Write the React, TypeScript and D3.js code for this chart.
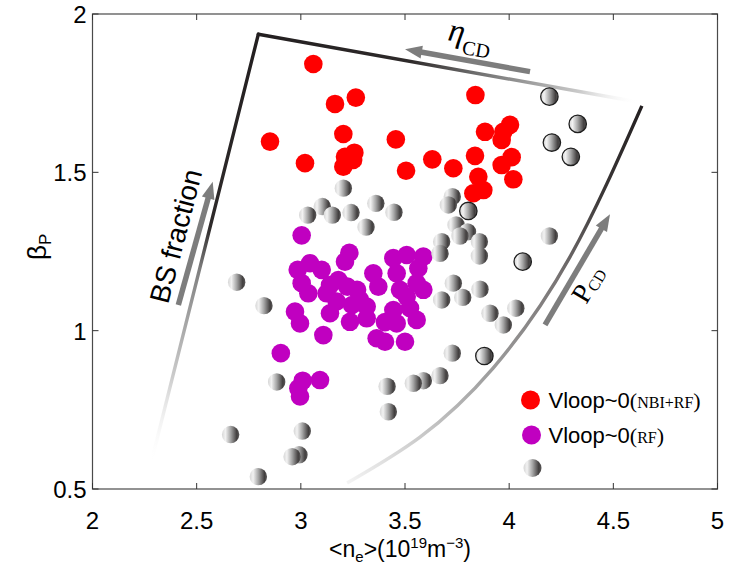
import React from 'react'
import * as d3 from 'd3'

// Vloop~0 (NBI+RF)
const redX = [3.06, 3.164, 3.264, 2.852, 3.204, 3.456, 3.02, 3.257, 3.212, 3.204, 3.251, 3.505, 3.838, 3.884, 3.972, 4.004, 3.964, 3.631, 3.732, 3.836, 3.964, 4.012, 4.02, 3.852, 3.876, 3.828]
const redY = [1.842, 1.716, 1.736, 1.597, 1.621, 1.604, 1.529, 1.562, 1.549, 1.518, 1.539, 1.505, 1.744, 1.628, 1.628, 1.65, 1.602, 1.541, 1.513, 1.552, 1.523, 1.548, 1.478, 1.486, 1.444, 1.434]

// Vloop~0 (RF)
const purpleX = [3.004, 3.233, 3.212, 3.044, 2.985, 3.1, 3.18, 3.004, 3.036, 3.124, 3.223, 3.348, 3.372, 3.444, 3.508, 3.588, 3.46, 3.564, 3.556, 3.588, 3.508, 3.284, 3.172, 3.14, 3.316, 3.444, 3.524, 2.972, 2.996, 3.236, 3.316, 3.46, 3.556, 3.108, 3.364, 3.404, 3.5, 2.904, 3.009, 3.092, 2.988, 2.996, 3.14, 3.27, 3.404, 3.476, 3.246]
const purpleY = [1.301, 1.246, 1.218, 1.213, 1.192, 1.192, 1.16, 1.15, 1.118, 1.118, 1.139, 1.181, 1.139, 1.229, 1.239, 1.234, 1.181, 1.197, 1.15, 1.129, 1.107, 1.097, 1.092, 1.055, 1.076, 1.065, 1.071, 1.06, 1.023, 1.028, 1.039, 1.023, 1.034, 0.986, 0.976, 0.965, 0.965, 0.929, 0.842, 0.844, 0.818, 0.792, 1.144, 1.129, 1.027, 1.129, 1.081]

// other shots
const grayX = [3.204, 3.103, 3.033, 3.151, 3.241, 3.36, 3.447, 3.313, 3.727, 3.708, 3.745, 3.8, 3.676, 3.857, 3.668, 3.857, 3.764, 4.193, 3.732, 3.676, 3.777, 3.86, 3.908, 4.032, 3.972, 3.727, 3.668, 3.588, 3.54, 3.414, 3.42, 2.692, 2.823, 2.884, 2.663, 3.007, 2.991, 2.958, 2.796]
const grayY = [1.45, 1.392, 1.365, 1.365, 1.373, 1.402, 1.374, 1.327, 1.423, 1.397, 1.334, 1.312, 1.281, 1.281, 1.244, 1.236, 1.299, 1.299, 1.15, 1.097, 1.105, 1.131, 1.055, 1.071, 1.018, 0.929, 0.858, 0.842, 0.834, 0.824, 0.744, 1.153, 1.079, 0.838, 0.672, 0.683, 0.608, 0.602, 0.539]
// other shots, drawn with a dark rim
const rimX = [4.193, 4.329, 4.205, 4.296, 3.804, 4.065, 3.881]
const rimY = [1.739, 1.653, 1.594, 1.549, 1.378, 1.218, 0.92]

const xTicks = [2, 2.5, 3, 3.5, 4, 4.5, 5]
const yTicks = [0.5, 1, 1.5, 2]

// annotation guides, in data units
const cornerPt = [2.796, 1.936]
const leftEndPt = [2.281, 0.582]
const topEndPt = [4.619, 1.722]
const arcX = [4.637, 4.292, 3.923, 3.572, 3.222]
const arcY = [1.71, 1.233, 0.882, 0.664, 0.519]
const etaArrow = [4.1, 1.818, 3.5, 1.889]
const bsArrow = [2.412, 1.081, 2.577, 1.47]
const pcdArrow = [4.172, 1.018, 4.484, 1.368]

const W = 737
const H = 568
const SANS = 'Liberation Sans, Arial, sans-serif'
const SERIF = 'Liberation Serif, Times New Roman, serif'

const Arrow = ({ x0, y0, x1, y1 }: { x0: number; y0: number; x1: number; y1: number }) => {
  const L = Math.hypot(x1 - x0, y1 - y0)
  const ux = (x1 - x0) / L, uy = (y1 - y0) / L
  const hl = 17, hw = 6.5
  const bx = x1 - ux * hl, by = y1 - uy * hl
  return (
    <g>
      <line x1={x0} y1={y0} x2={bx + ux} y2={by + uy} stroke="#7d7d7d" strokeWidth={5.5} />
      <polygon points={`${x1},${y1} ${bx - uy * hw},${by + ux * hw} ${bx + uy * hw},${by - ux * hw}`} fill="#7d7d7d" />
    </g>
  )
}

const App = () => {
  const x = d3.scaleLinear().domain([2, 5]).range([92.5, 717.5])
  const y = d3.scaleLinear().domain([0.5, 2]).range([489, 14])
  const [x0, x1] = x.range()
  const [y0, y1] = y.range()

  const arcLine = d3.line<number>()
    .x(i => x(arcX[i]))
    .y(i => y(arcY[i]))
    .curve(d3.curveNatural)
  const arcIdx = d3.range(arcX.length)

  const cx = x(cornerPt[0]), cy = y(cornerPt[1])
  const lx = x(leftEndPt[0]), ly = y(leftEndPt[1])
  const tx = x(topEndPt[0]), ty = y(topEndPt[1])
  const ax0 = x(arcX[0]), ay0 = y(arcY[0])
  const ax1 = x(arcX[arcX.length - 1]), ay1 = y(arcY[arcY.length - 1])

  const legX = x1 - 187
  const legY = y0 - 89

  return (
    <svg width={W} height={H} style={{ position: 'absolute', left: 0, top: 0, background: '#fff' }}>
      <defs>
        <linearGradient id="sphere" x1="0" x2="1" y1="0" y2="0">
          <stop offset="0" stopColor="#d6d6d6" />
          <stop offset="0.2" stopColor="#f2f2f2" />
          <stop offset="0.5" stopColor="#a6a6a6" />
          <stop offset="0.85" stopColor="#423f3f" />
          <stop offset="1" stopColor="#5a5858" />
        </linearGradient>
        <linearGradient id="gLeft" gradientUnits="userSpaceOnUse" x1={cx} y1={cy} x2={lx} y2={ly}>
          <stop offset="0" stopColor="#231f20" />
          <stop offset="0.45" stopColor="#2e2a2a" />
          <stop offset="0.55" stopColor="#808080" />
          <stop offset="0.8" stopColor="#cccccc" />
          <stop offset="1" stopColor="#ffffff" stopOpacity="0" />
        </linearGradient>
        <linearGradient id="gTop" gradientUnits="userSpaceOnUse" x1={cx} y1={cy} x2={tx} y2={ty}>
          <stop offset="0" stopColor="#231f20" />
          <stop offset="0.4" stopColor="#2e2a2a" />
          <stop offset="0.6" stopColor="#777777" />
          <stop offset="0.85" stopColor="#cccccc" />
          <stop offset="1" stopColor="#ffffff" stopOpacity="0" />
        </linearGradient>
        <linearGradient id="gArc" gradientUnits="userSpaceOnUse" x1={ax0} y1={ay0} x2={ax1} y2={ay1}>
          <stop offset="0" stopColor="#231f20" />
          <stop offset="0.2" stopColor="#3c3838" />
          <stop offset="0.4" stopColor="#7a7676" />
          <stop offset="0.65" stopColor="#a0a0a0" />
          <stop offset="0.85" stopColor="#cfcfcf" />
          <stop offset="1" stopColor="#f4f4f4" />
        </linearGradient>
      </defs>

      {/* frame + ticks */}
      <rect x={x0} y={y1} width={x1 - x0} height={y0 - y1} fill="none" stroke="#4a4a4a" strokeWidth={1.2} />
      {xTicks.map(t => (
        <g key={'x' + t}>
          <line x1={x(t)} x2={x(t)} y1={y0} y2={y0 - 6} stroke="#333" />
          <line x1={x(t)} x2={x(t)} y1={y1} y2={y1 + 6} stroke="#333" />
          <text x={x(t)} y={y0 + 40} textAnchor="middle" fontFamily={SANS} fontSize={24}>{t}</text>
        </g>
      ))}
      {yTicks.map(t => (
        <g key={'y' + t}>
          <line x1={x0} x2={x0 + 6} y1={y(t)} y2={y(t)} stroke="#333" />
          <line x1={x1} x2={x1 - 6} y1={y(t)} y2={y(t)} stroke="#333" />
          <text x={x0 - 6} y={y(t) + 9} textAnchor="end" fontFamily={SANS} fontSize={24}>{t}</text>
        </g>
      ))}

      {/* axis labels */}
      <text x={400} y={557} textAnchor="middle" fontFamily={SANS} fontSize={23}>
        {'<n'}<tspan dy={5} fontSize={15}>e</tspan><tspan dy={-5}>{'>(10'}</tspan>
        <tspan dy={-9} fontSize={15}>19</tspan><tspan dy={9}>m</tspan>
        <tspan dy={-9} fontSize={15}>{'\u22123'}</tspan><tspan dy={9}>)</tspan>
      </text>
      <text transform="translate(46,260) rotate(-90)" fontFamily={SANS} fontSize={26}>
        β<tspan dy={5} fontSize={17}>P</tspan>
      </text>

      {/* guide lines */}
      <line x1={cx} y1={cy} x2={lx} y2={ly} stroke="url(#gLeft)" strokeWidth={3.4} strokeLinecap="round" />
      <line x1={cx} y1={cy} x2={tx} y2={ty} stroke="url(#gTop)" strokeWidth={3.4} strokeLinecap="round" />
      <path d={arcLine(arcIdx) ?? ''} fill="none" stroke="url(#gArc)" strokeWidth={3.4} />

      <Arrow x0={x(etaArrow[0])} y0={y(etaArrow[1])} x1={x(etaArrow[2])} y1={y(etaArrow[3])} />
      <Arrow x0={x(bsArrow[0])} y0={y(bsArrow[1])} x1={x(bsArrow[2])} y1={y(bsArrow[3])} />
      <Arrow x0={x(pcdArrow[0])} y0={y(pcdArrow[1])} x1={x(pcdArrow[2])} y1={y(pcdArrow[3])} />

      <text transform={`translate(${x(3.702)},${y(1.918)}) rotate(10)`} fontFamily={SERIF} fontSize={33} fontStyle="italic">
        η<tspan dy={11} fontSize={20} fontStyle="normal">CD</tspan>
      </text>
      <text transform={`translate(${x(2.401)},${y(1.299)}) rotate(-75.5)`} fontFamily={SANS} fontSize={28}
        textAnchor="middle" dominantBaseline="central">BS fraction</text>
      <text transform={`translate(${x(4.37)},${y(1.081)}) rotate(-59)`} fontFamily={SERIF} fontSize={28}>
        P<tspan dy={2} fontSize={16}>CD</tspan>
      </text>

      {/* points */}
      {redX.map((v, i) => (
        <circle key={'r' + i} cx={x(v)} cy={y(redY[i])} r={9.3} fill="#ff0000" />
      ))}
      {purpleX.map((v, i) => (
        <circle key={'p' + i} cx={x(v)} cy={y(purpleY[i])} r={9.3} fill="#c000c0" />
      ))}
      {grayX.map((v, i) => (
        <circle key={'g' + i} cx={x(v)} cy={y(grayY[i])} r={8.7} fill="url(#sphere)" />
      ))}
      {rimX.map((v, i) => (
        <circle key={'k' + i} cx={x(v)} cy={y(rimY[i])} r={8.7} fill="url(#sphere)" stroke="#1e1e1e" strokeWidth={1.3} />
      ))}

      {/* legend */}
      <circle cx={legX} cy={legY} r={9.5} fill="#ff0000" />
      <text x={legX + 18} y={legY + 8} fontFamily={SANS} fontSize={22}>
        Vloop~0<tspan fontFamily={SERIF}>(</tspan><tspan fontFamily={SERIF} fontSize={16}>NBI+RF</tspan><tspan fontFamily={SERIF}>)</tspan>
      </text>
      <circle cx={legX + 1} cy={legY + 35} r={9.5} fill="#c000c0" />
      <text x={legX + 18} y={legY + 43} fontFamily={SANS} fontSize={22}>
        Vloop~0<tspan fontFamily={SERIF}>(</tspan><tspan fontFamily={SERIF} fontSize={16}>RF</tspan><tspan fontFamily={SERIF}>)</tspan>
      </text>
      <circle cx={legX + 2} cy={legY + 68} r={9} fill="url(#sphere)" />
    </svg>
  )
}

export default App
